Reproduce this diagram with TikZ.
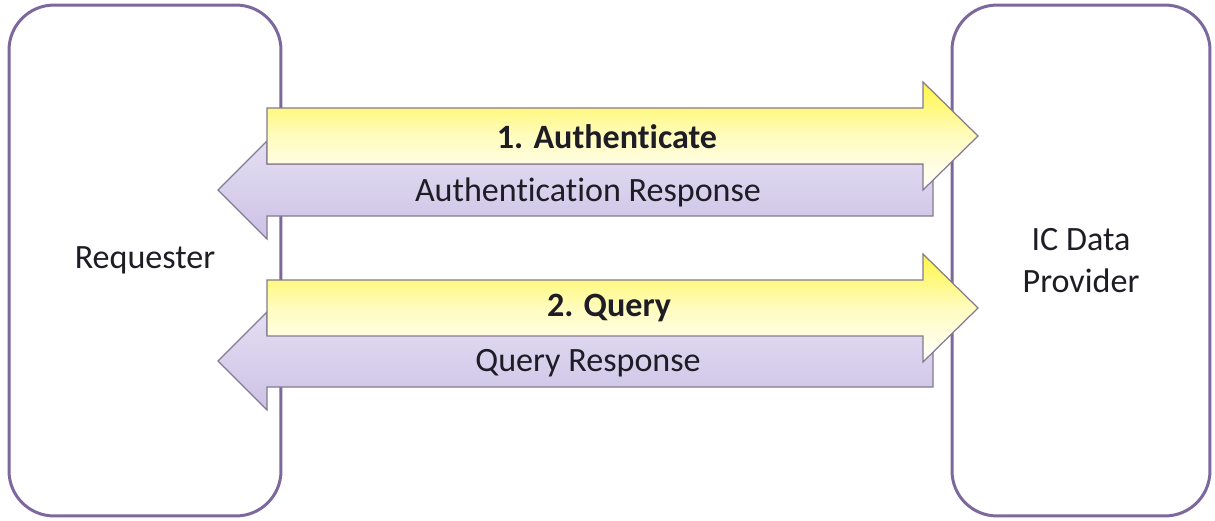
\documentclass[tikz,border=0pt]{standalone}
\usepackage{fontspec}
\setmainfont{Carlito}[Ligatures={NoCommon}]
\usetikzlibrary{positioning}

\definecolor{boxline}{RGB}{124,104,156}
\definecolor{arrline}{RGB}{132,122,144}
\definecolor{fwdtop}{RGB}{255,246,70}
\definecolor{backtop}{RGB}{228,222,242}
\definecolor{backbot}{RGB}{204,194,230}
\definecolor{txt}{RGB}{30,28,36}

\tikzset{
  endbox/.style={draw=boxline, line width=1.7pt, fill=white, rounded corners=0.9cm,
    align=center, text=txt, font=\fontsize{19.4}{24}\selectfont},
  fwdarrow/.style={draw=arrline, line width=0.7pt, top color=fwdtop, bottom color=white, middle color=fwdtop!35},
  backarrow/.style={draw=arrline, line width=0.7pt, top color=backtop, bottom color=backbot},
  msg/.style={font=\fontsize{19.4}{24}\selectfont, text=txt, inner sep=0pt},
}
% right block arrow: #1 tail x, #2 tip x, #3 middle y
\newcommand{\ArrowRight}[3]{%
  \path[fwdarrow] (#1,#3-28) -- (#2-55,#3-28) -- (#2-55,#3-54) -- (#2,#3)
    -- (#2-55,#3+54) -- (#2-55,#3+28) -- (#1,#3+28) -- cycle;}
% left block arrow: #1 tip x, #2 tail x, #3 middle y
\newcommand{\ArrowLeft}[3]{%
  \path[backarrow] (#2,#3-26) -- (#1+49,#3-26) -- (#1+49,#3-49) -- (#1,#3)
    -- (#1+49,#3+49) -- (#1+49,#3+26) -- (#2,#3+26) -- cycle;}

\begin{document}
\begin{tikzpicture}[x=0.02cm, y=-0.02cm]
\useasboundingbox (0,0) rectangle (1215,521);

\node[endbox, minimum width=5.44cm, minimum height=10.22cm] (req) at (145,260.5) {Requester};
\node[endbox, minimum width=5.16cm, minimum height=10.22cm] (prov) at (1081,260.5) {IC Data\\Provider};

	\ArrowLeft{218}{933}{190}
	\ArrowRight{267}{978}{136}
	
	\ArrowLeft{218}{933}{361}
	\ArrowRight{267}{978}{308}
	
	\node[msg, font=\fontsize{19.4}{24}\selectfont\bfseries] (auth) at (607,137) {1. Authenticate};
	\node[msg] (authresp) at (588,192) {Authentication Response};
	
	\node[msg, font=\fontsize{19.4}{24}\selectfont\bfseries] (query) at (609,308) {2. Query};
	\node[msg] (queryresp) at (588,363) {Query Response};

\end{tikzpicture}
\end{document}
